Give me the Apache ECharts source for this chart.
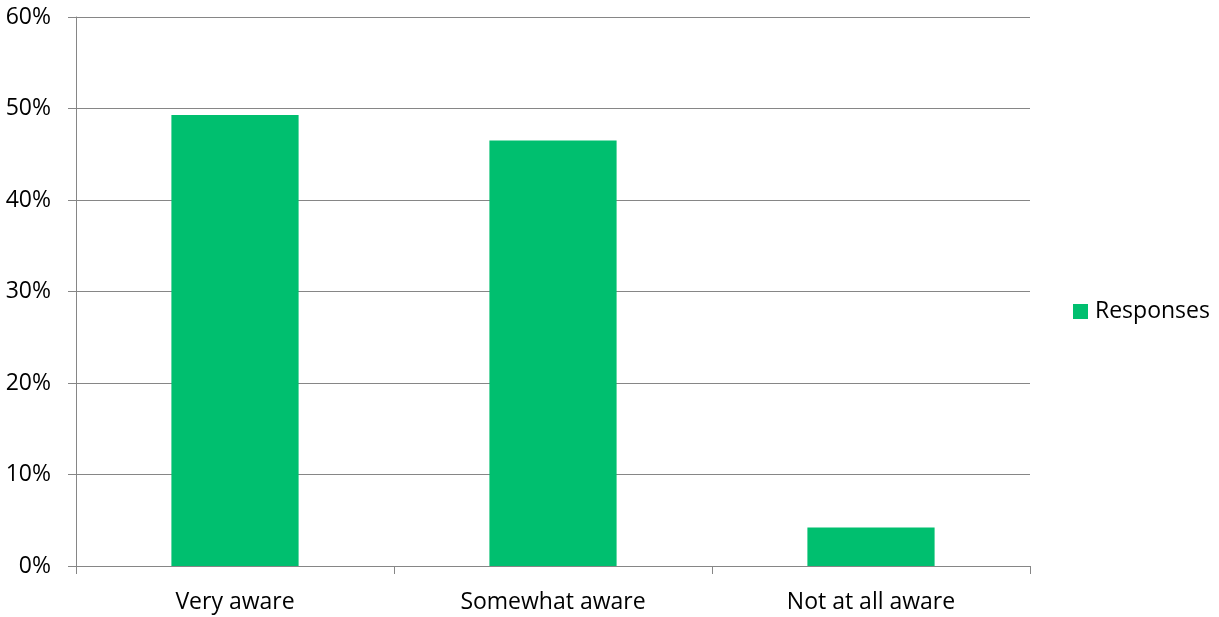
<!DOCTYPE html>
<html>
<head>
<meta charset="utf-8">
<script src="https://cdn.jsdelivr.net/npm/echarts@6/dist/echarts.min.js"></script>
<style>
html,body{margin:0;padding:0;background:#fff;}
#chart{width:1219px;height:617px;}
</style>
</head>
<body>
<div id="chart"></div>
<script>
const categories = ["Very aware", "Somewhat aware", "Not at all aware"];
const responses = [49.3, 46.5, 4.2];
const yTicks = [0, 10, 20, 30, 40, 50, 60];

const chart = echarts.init(document.getElementById('chart'));
const font = '"Open Sans", sans-serif';
chart.setOption({
  animation: false,
  textStyle: { fontFamily: font },
  grid: { left: 76, right: 189, top: 17, bottom: 51, containLabel: false },
  legend: {
    data: ['Responses'],
    orient: 'vertical',
    left: 1068,
    top: 295,
    itemWidth: 15,
    itemHeight: 15,
    icon: 'rect',
    textStyle: { fontFamily: font, fontSize: 23, color: '#000', padding: [0,0,0,2] }
  },
  xAxis: {
    type: 'category',
    data: categories,
    boundaryGap: true,
    axisLine: { show: true, lineStyle: { color: '#868686', width: 1 } },
    axisTick: { show: true, length: 8, alignWithLabel: false, lineStyle: { color: '#868686' } },
    axisLabel: { fontFamily: font, fontSize: 23, color: '#000', margin: 25 }
  },
  yAxis: {
    type: 'value',
    min: yTicks[0],
    max: yTicks[yTicks.length - 1],
    interval: 10,
    axisLine: { show: true, lineStyle: { color: '#868686', width: 1 } },
    axisTick: { show: true, length: 8, lineStyle: { color: '#868686' } },
    splitLine: { show: true, lineStyle: { color: '#868686', width: 1 } },
    axisLabel: { fontFamily: font, fontSize: 23, color: '#000', margin: 25, formatter: v => v + '%' }
  },
  series: [{
    name: 'Responses',
    type: 'bar',
    data: responses,
    barWidth: '40%',
    itemStyle: { color: '#00BF6F' }
  }]
});
</script>
</body>
</html>
